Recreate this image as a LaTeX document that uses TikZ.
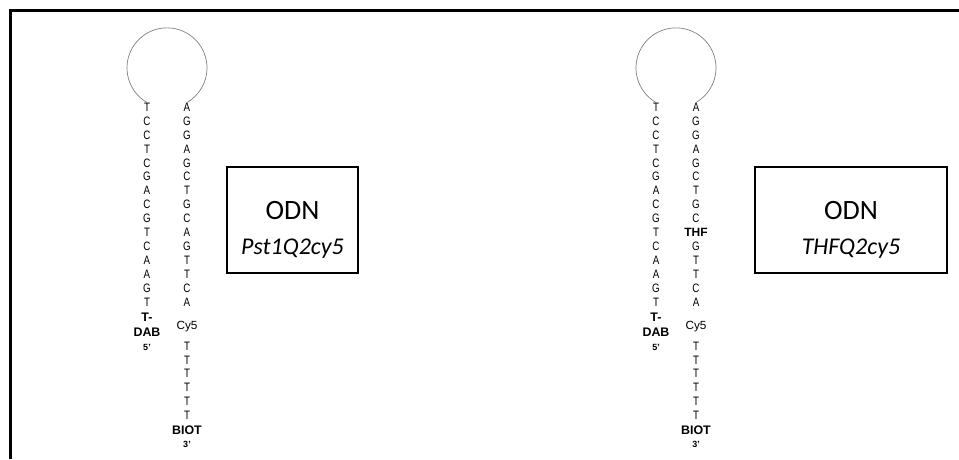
\documentclass[tikz,border=0pt]{standalone}
\usepackage{fontspec}
\setmainfont{Liberation Sans}
\newfontfamily\seqfont[FakeStretch=0.8]{Liberation Sans}
\newfontfamily\boxfont{Carlito}
\usetikzlibrary{positioning}

\begin{document}
\begin{tikzpicture}[x=1pt,y=1pt,
 base/.style={font=\seqfont\fontsize{12.2}{13}\selectfont,inner sep=0pt,text height=8.6pt,text depth=0pt},
 mark5/.style={font=\fontsize{11.8}{12}\selectfont,inner sep=0pt,text height=8.4pt,text depth=0pt},
 tag/.style={font=\fontsize{12.4}{13}\selectfont\bfseries,inner sep=0pt,text height=8.8pt,text depth=0pt},
 prime/.style={font=\fontsize{9}{10}\selectfont\bfseries,inner sep=0pt,text height=6.4pt,text depth=0pt},
 loopline/.style={draw=black!50,line width=0.7pt},
 odnbox/.style={draw=black,line width=1.7pt,minimum height=106pt,inner sep=0pt},
 boxtext/.style={font=\boxfont\fontsize{24}{26}\selectfont,inner sep=0pt}]
\useasboundingbox (0,0) rectangle (959,-459);
% outer frame
\draw[line width=2.2pt] (10.5,-459) |- (959,-10.5);

% hairpin 1
\foreach \b [count=\i] in {T,C,C,T,C,G,A,C,G,T,C,A,A,G,T}
  \node[base] (la\i) at (147,{-107-13.93*(\i-1)}) {\b};
\foreach \b [count=\i] in {A,G,G,A,G,C,T,G,C,A,G,T,T,C,A}
  \node[base] (ra\i) at (187,{-107-13.93*(\i-1)}) {\b};
\node[tag] (tdaba) at (147,-317) {T-};
\node[tag] (daba) at (147,-332) {DAB};
\node[prime] (fivea) at (147,-347) {5'};
\node[mark5] (cya) at (187,-325) {Cy5};
\foreach \i in {1,...,6}
  \node[base] (ta\i) at (187,{-346-13.8*(\i-1)}) {T};
\node[tag] (biota) at (187,-430) {BIOT};
\node[prime] (threea) at (187,-444) {3'};
\draw[loopline] (la1.north) arc[start angle=240,end angle=-60,radius=40];

% hairpin 2
\foreach \b [count=\i] in {T,C,C,T,C,G,A,C,G,T,C,A,A,G,T}
  \node[base] (lb\i) at (656,{-107-13.93*(\i-1)}) {\b};
\foreach \b [count=\i] in {A,G,G,A,G,C,T,G,C,\rmfamily\bfseries\fontsize{12}{13}\selectfont THF,G,T,T,C,A}
  \node[base] (rb\i) at (696,{-107-13.93*(\i-1)}) {\b};
\node[tag] (tdabb) at (656,-317) {T-};
\node[tag] (dabb) at (656,-332) {DAB};
\node[prime] (fiveb) at (656,-347) {5'};
\node[mark5] (cyb) at (696,-325) {Cy5};
\foreach \i in {1,...,6}
  \node[base] (tb\i) at (696,{-346-13.8*(\i-1)}) {T};
\node[tag] (biotb) at (696,-430) {BIOT};
\node[prime] (threeb) at (696,-444) {3'};
\draw[loopline] (lb1.north) arc[start angle=240,end angle=-60,radius=40];

% labels
\node[odnbox, minimum width=131pt] (boxa) at (292.5,-220) {};
\node[boxtext, font=\boxfont\fontsize{28}{30}\selectfont] (odna) at (292.5,-211) {ODN};
\node[boxtext] (namea) at (292.5,-249) {\itshape Pst1Q2cy5};
\node[odnbox, minimum width=192pt] (boxb) at (851,-220) {};
\node[boxtext, font=\boxfont\fontsize{28}{30}\selectfont] (odnb) at (851,-211) {ODN};
\node[boxtext] (nameb) at (851,-249) {\itshape THFQ2cy5};
\end{tikzpicture}
\end{document}
